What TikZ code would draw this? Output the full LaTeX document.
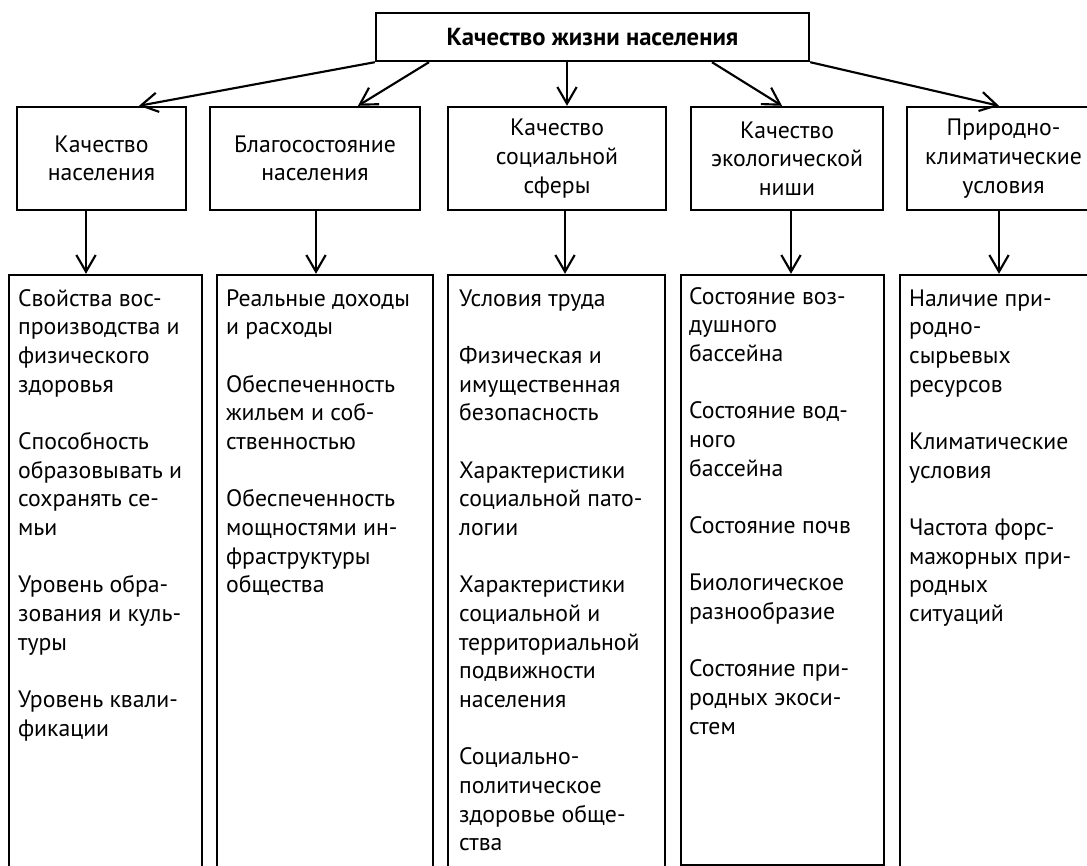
\documentclass[tikz,border=0pt]{standalone}
\usepackage{fontspec}
\setmainfont{PT Sans}
\usetikzlibrary{arrows.meta,calc}
\newcommand\pgap{\\[\baselineskip]}
\begin{document}
\begin{tikzpicture}[x=0.75pt,y=-0.75pt,
  box/.style={draw,line width=1.8pt,rectangle,inner sep=0pt},
  txt/.style={font=\fontsize{17.8}{21.5}\selectfont,align=center},
  ltxt/.style={font=\fontsize{17.8}{21.5}\selectfont,align=left,anchor=north west,inner sep=0pt},
  arr/.style={line width=1.6pt,-{Straight Barb[length=12.5pt,width=14.5pt]}}]
\useasboundingbox (0,0) rectangle (1087,866);
\clip (0,0) rectangle (1087,866);
% top
\node[box,txt,minimum width=324.75pt,minimum height=36pt,font=\fontsize{18.5}{21.5}\selectfont\bfseries] (top) at (592.5,37) {Качество жизни населения};
% level 2
\node[box,txt,minimum width=126.75pt,minimum height=77.25pt] (b1) at (101.5,158.5) {Качество\\населения};
\node[box,txt,minimum width=157.5pt,minimum height=77.25pt] (b2) at (315,158.5) {Благосостояние\\населения};
\node[box,txt,minimum width=163.5pt,minimum height=77.25pt] (b3) at (557,158.5) {Качество\\социальной\\сферы};
\node[box,txt,minimum width=144pt,minimum height=77.25pt] (b4) at (787,158.5) {Качество\\экологической\\ниши};
\node[box,txt,minimum width=144.75pt,minimum height=77.25pt] (b5) at (1003.5,158.5) {Природно-\\климатические\\условия};
% level 3 boxes
\node[box,minimum width=144.75pt,minimum height=453.75pt] (c1) at (105.5,577.5) {};
\node[box,minimum width=162pt,minimum height=453.75pt] (c2) at (325,577.5) {};
\node[box,minimum width=162.75pt,minimum height=453.75pt] (c3) at (556.5,577.5) {};
\node[box,minimum width=152.25pt,minimum height=442.5pt] (c4) at (782.5,570) {};
\node[box,minimum width=150pt,minimum height=453.75pt] (c5) at (1000,577.5) {};
% level 3 texts
\node[ltxt] (t1) at ($(c1.north west)+(10,12)$) {\strut Свойства вос-\\производства и\\физического\\здоровья\pgap
Способность\\образовывать и\\сохранять се-\\мьи\pgap
Уровень обра-\\зования и куль-\\туры\pgap
Уровень квали-\\фикации};
\node[ltxt] (t2) at ($(c2.north west)+(10,12)$) {\strut Реальные доходы\\и расходы\pgap
Обеспеченность\\жильем и соб-\\ственностью\pgap
Обеспеченность\\мощностями ин-\\фраструктуры\\общества};
\node[ltxt] (t3) at ($(c3.north west)+(12,12)$) {\strut Условия труда\pgap
Физическая и\\имущественная\\безопасность\pgap
Характеристики\\социальной пато-\\логии\pgap
Характеристики\\социальной и\\территориальной\\подвижности\\населения\pgap
Социально-\\политическое\\здоровье обще-\\ства};
\node[ltxt] (t4) at ($(c4.north west)+(9,10)$) {\strut Состояние воз-\\душного\\бассейна\pgap
Состояние вод-\\ного\\бассейна\pgap
Состояние почв\pgap
Биологическое\\разнообразие\pgap
Состояние при-\\родных экоси-\\стем};
\node[ltxt] (t5) at ($(c5.north west)+(10,12)$) {\strut Наличие при-\\родно-\\сырьевых\\ресурсов\pgap
Климатические\\условия\pgap
Частота форс-\\мажорных при-\\родных\\ситуаций};
% arrow x positions
\coordinate (s2) at (429,0);
\coordinate (s3) at (567,0);
\coordinate (s4) at (712,0);
\coordinate (e1) at (139,0);
\coordinate (e2) at (358,0);
\coordinate (e4) at (782,0);
\coordinate (e5) at (999,0);
\draw[arr] (top.south west) -- (b1.north -| e1);
\draw[arr] (top.south -| s2) -- (b2.north -| e2);
\draw[arr] (top.south -| s3) -- (b3.north -| s3);
\draw[arr] (top.south -| s4) -- (b4.north -| e4);
\draw[arr] (top.south east) -- (b5.north -| e5);
% vertical arrows
\coordinate (v1) at (86,0);
\coordinate (v2) at (316,0);
\coordinate (v3) at (565,0);
\coordinate (v4) at (791,0);
\coordinate (v5) at (999,0);
\draw[arr] (b1.south -| v1) -- (c1.north -| v1);
\draw[arr] (b2.south -| v2) -- (c2.north -| v2);
\draw[arr] (b3.south -| v3) -- (c3.north -| v3);
\draw[arr] (b4.south -| v4) -- (c4.north -| v4);
\draw[arr] (b5.south -| v5) -- (c5.north -| v5);
\end{tikzpicture}
\end{document}
